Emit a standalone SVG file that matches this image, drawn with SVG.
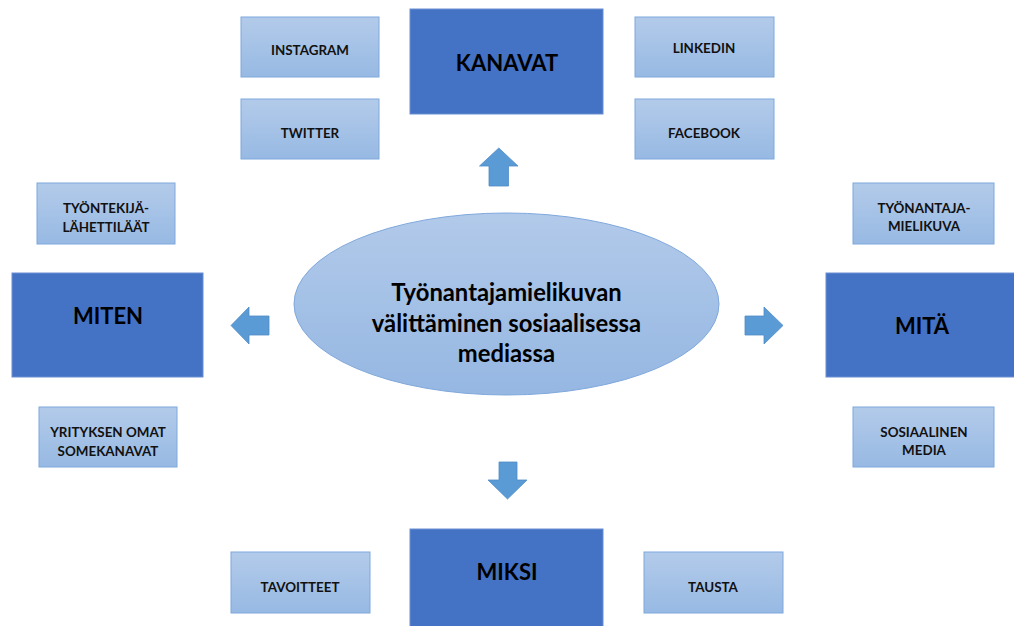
<svg xmlns="http://www.w3.org/2000/svg" width="1014" height="626" viewBox="0 0 1014 626">
<style>
.big{fill:#4472C4;stroke:#6A8FD2;stroke-width:1}
.small{fill:url(#g);stroke:#7FA8DC;stroke-width:1}
.arr{fill:#5B9BD5;stroke:#4F8CC6;stroke-width:0.8}
.bt{font-family:Lato,"Liberation Sans",sans-serif;font-weight:bold;font-size:22px;fill:#000;text-anchor:middle}
.st{font-family:Lato,"Liberation Sans",sans-serif;font-weight:bold;font-size:13.4px;fill:#111;text-anchor:middle}
.ct{font-family:Lato,"Liberation Sans",sans-serif;font-weight:bold;font-size:23.8px;fill:#000;text-anchor:middle}
</style>
<defs>
<linearGradient id="g" x1="0" y1="0" x2="0" y2="1">
<stop offset="0" stop-color="#B3CBEA"/>
<stop offset="1" stop-color="#97B9E3"/>
</linearGradient>
<linearGradient id="ge" x1="0" y1="0" x2="0" y2="1">
<stop offset="0" stop-color="#B2CAEA"/>
<stop offset="1" stop-color="#95B7E2"/>
</linearGradient>
</defs>
<rect width="1014" height="626" fill="#fff"/>
<g id="connectors">
<polygon class="arr" points="498.8,148 518,166 508.5,166 508.5,186 489,186 489,166 479.5,166"/>
<polygon class="arr" points="231,325.5 249,307 249,316 269,316 269,335 249,335 249,344"/>
<polygon class="arr" points="783,325.5 764,307 764,316 745,316 745,335 764,335 764,344"/>
<polygon class="arr" points="507.5,499 527,480 517,480 517,462 499,462 499,480 488,480"/>
</g>
<g id="center">
<ellipse cx="506.5" cy="304" rx="212.5" ry="91" fill="url(#ge)" stroke="#7FA8DC" stroke-width="1"/>
<text class="ct" x="506.5" y="301">Työnantajamielikuvan</text>
<text class="ct" x="506.5" y="332">välittäminen sosiaalisessa</text>
<text class="ct" x="506.5" y="362">mediassa</text>
</g>
<g id="kanavat">
<rect class="big" x="410" y="9" width="193" height="105"/>
<text class="bt" x="507" y="71">KANAVAT</text>
</g>
<g id="instagram">
<rect class="small" x="241" y="17" width="138" height="60"/>
<text class="st" x="310" y="55">INSTAGRAM</text>
</g>
<g id="twitter">
<rect class="small" x="241" y="99" width="138" height="60"/>
<text class="st" x="310" y="138">TWITTER</text>
</g>
<g id="linkedin">
<rect class="small" x="635" y="17" width="139" height="60"/>
<text class="st" x="704" y="53">LINKEDIN</text>
</g>
<g id="facebook">
<rect class="small" x="635" y="99" width="139" height="60"/>
<text class="st" x="704" y="138">FACEBOOK</text>
</g>
<g id="miten">
<rect class="big" x="12" y="273" width="191" height="104"/>
<text class="bt" x="108" y="324">MITEN</text>
</g>
<g id="tyontekija">
<rect class="small" x="37" y="183" width="138" height="61"/>
<text class="st" x="106" y="213">TYÖNTEKIJÄ-</text>
<text class="st" x="106" y="232">LÄHETTILÄÄT</text>
</g>
<g id="yrityksen">
<rect class="small" x="39" y="407" width="138" height="60"/>
<text class="st" x="108" y="437">YRITYKSEN OMAT</text>
<text class="st" x="108" y="456">SOMEKANAVAT</text>
</g>
<g id="mita">
<rect class="big" x="826" y="273" width="190" height="104"/>
<text class="bt" x="922" y="334">MITÄ</text>
</g>
<g id="tyonantaja">
<rect class="small" x="853" y="183" width="141" height="61"/>
<text class="st" x="924" y="213">TYÖNANTAJA-</text>
<text class="st" x="924" y="231">MIELIKUVA</text>
</g>
<g id="sosiaalinen">
<rect class="small" x="853" y="407" width="141" height="60"/>
<text class="st" x="924" y="437">SOSIAALINEN</text>
<text class="st" x="924" y="455">MEDIA</text>
</g>
<g id="miksi">
<rect class="big" x="410" y="529" width="193" height="100"/>
<text class="bt" x="507" y="580">MIKSI</text>
</g>
<g id="tavoitteet">
<rect class="small" x="231" y="552" width="139" height="61"/>
<text class="st" x="300" y="592">TAVOITTEET</text>
</g>
<g id="tausta">
<rect class="small" x="644" y="552" width="139" height="61"/>
<text class="st" x="713" y="592">TAUSTA</text>
</g>
</svg>
